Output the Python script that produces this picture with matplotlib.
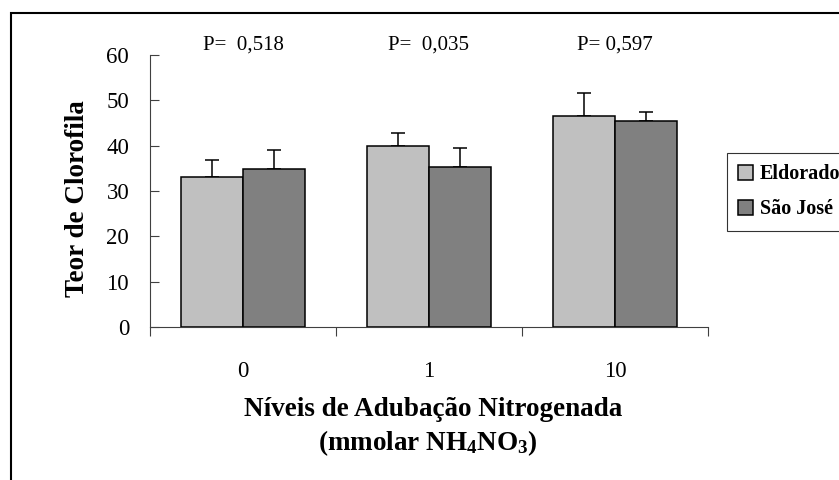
import matplotlib.pyplot as plt
import numpy as np
from matplotlib.patches import Rectangle

plt.rcParams['font.family'] = ['Liberation Serif', 'DejaVu Serif']
plt.rcParams['mathtext.fontset'] = 'custom'
plt.rcParams['mathtext.rm'] = 'Liberation Serif:bold'
plt.rcParams['mathtext.bf'] = 'Liberation Serif:bold'
plt.rcParams['mathtext.default'] = 'bf'

niveis = ['0', '1', '10']
eldorado = [33.0, 40.0, 46.6]
eldorado_err = [3.7, 2.7, 5.0]
sao_jose = [34.8, 35.2, 45.5]
sao_jose_err = [4.2, 4.2, 1.9]
p_valores = ['P=  0,518', 'P=  0,035', 'P= 0,597']

W, H = 839, 480
fig = plt.figure(figsize=(W / 100, H / 100), dpi=100)
ax = fig.add_axes([150 / W, 1 - 327.3 / H, (708 - 150) / W, (327.3 - 54.6) / H])

x = np.arange(len(niveis))
w = 1 / 3
ax.bar(x - w / 2, eldorado, w, color='#C0C0C0', edgecolor='black', linewidth=1.1,
       label='Eldorado', zorder=3)
ax.bar(x + w / 2, sao_jose, w, color='#808080', edgecolor='black', linewidth=1.1,
       label='São José', zorder=3)
ax.errorbar(x - w / 2, eldorado, yerr=[np.zeros(3), eldorado_err], fmt='none',
            ecolor='black', elinewidth=1.1, capsize=5, capthick=1.1, zorder=2)
ax.errorbar(x + w / 2, sao_jose, yerr=[np.zeros(3), sao_jose_err], fmt='none',
            ecolor='black', elinewidth=1.1, capsize=5, capthick=1.1, zorder=2)

ax.set_xlim(-0.5, 2.5)
ax.set_ylim(0, 60)
ax.set_yticks(range(0, 61, 10))
ax.tick_params(axis='y', direction='in', length=6.5, width=0.8, color='#404040',
               labelsize=16.5, pad=15)
ax.set_xticks([-0.5, 0.5, 1.5, 2.5])
ax.set_xticklabels([])
ax.tick_params(axis='x', which='major', direction='out', length=6.5, width=0.8,
               color='#404040')
ax.set_xticks(x, minor=True)
ax.set_xticklabels(niveis, minor=True)
ax.tick_params(axis='x', which='minor', length=0, labelsize=16.5, pad=24)

for s in ['top', 'right']:
    ax.spines[s].set_visible(False)
for s in ['left', 'bottom']:
    ax.spines[s].set_color('#404040')
    ax.spines[s].set_linewidth(0.8)

for i, p in enumerate(p_valores):
    ax.text(x[i], 1.017, p, transform=ax.get_xaxis_transform(), ha='center',
            va='baseline', fontsize=15)

fig.text(78 / W, 1 - 199 / H, 'Teor de Clorofila', rotation=90, ha='center',
         va='center', fontsize=19.5, fontweight='bold')
fig.text(433 / W, 1 - 410 / H, 'Níveis de Adubação Nitrogenada', ha='center',
         va='center', fontsize=19.5, fontweight='bold')
fig.text(428 / W, 1 - 443 / H, r'(mmolar NH$_4$NO$_3$)', ha='center',
         va='center', fontsize=19.5, fontweight='bold')

leg = ax.legend(loc='upper left', bbox_to_anchor=(727.3 / W, 1 - 153.3 / H),
                bbox_transform=fig.transFigure, frameon=True, fancybox=False,
                edgecolor='black', borderaxespad=0, handlelength=0.75,
                handleheight=0.75, handletextpad=0.3, borderpad=0.55,
                labelspacing=0.75, prop={'size': 14.5, 'weight': 'bold'})
leg.get_frame().set_linewidth(0.8)

fig.patches.append(Rectangle((11 / W, -0.1), 1.2, 1.1 - 13 / H, transform=fig.transFigure,
                             fill=False, edgecolor='black', linewidth=1.5))

fig.savefig('out.png', dpi=100)
